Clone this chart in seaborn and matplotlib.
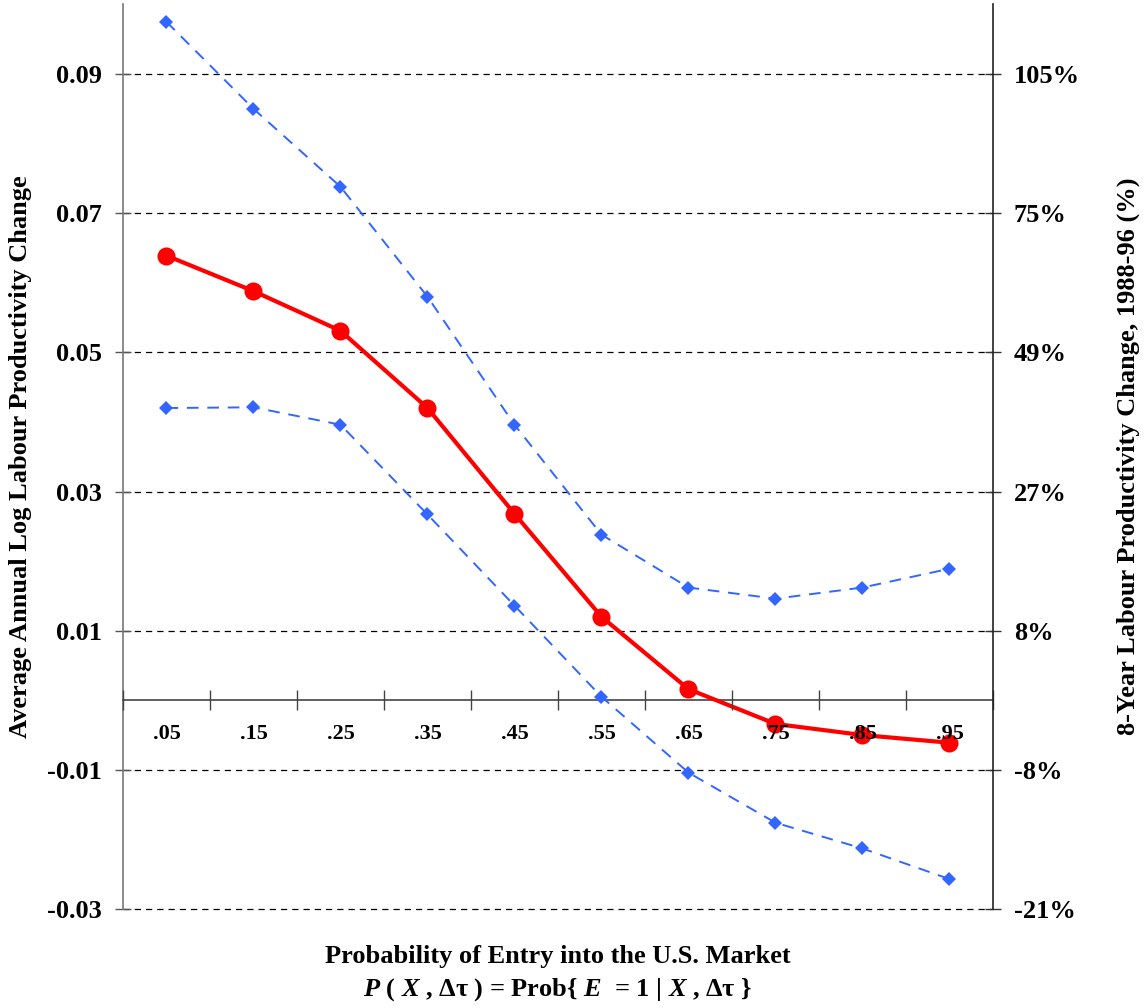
import numpy as np
import pandas as pd
import seaborn as sns
import matplotlib.pyplot as plt
from matplotlib.ticker import FixedLocator, FixedFormatter, NullFormatter

entry_prob = [0.05, 0.15, 0.25, 0.35, 0.45, 0.55, 0.65, 0.75, 0.85, 0.95]
entry_labels = [".05", ".15", ".25", ".35", ".45", ".55", ".65", ".75", ".85", ".95"]

mean_change = [0.0639, 0.0588, 0.0531, 0.0420, 0.0268, 0.0120, 0.0016, -0.0034, -0.0050, -0.0061]
upper_band = [0.0975, 0.0850, 0.0738, 0.0580, 0.0396, 0.0238, 0.0162, 0.0146, 0.0162, 0.0189]
lower_band = [0.0420, 0.0421, 0.0396, 0.0267, 0.0136, 0.0005, -0.0104, -0.0176, -0.0213, -0.0257]

y_ticks = [-0.03, -0.01, 0.01, 0.03, 0.05, 0.07, 0.09]
y_labels = ["-0.03", "-0.01", "0.01", "0.03", "0.05", "0.07", "0.09"]
pct_labels = ["-21%", "-8%", "8%", "27%", "49%", "75%", "105%"]

df = pd.DataFrame({"p": entry_prob, "mean": mean_change,
                   "upper": upper_band, "lower": lower_band})

sns.set_style("white")
plt.rcParams["font.family"] = ["Liberation Serif", "DejaVu Serif"]
plt.rcParams["font.weight"] = "bold"
plt.rcParams["text.color"] = "black"
plt.rcParams["axes.labelcolor"] = "black"
plt.rcParams["xtick.color"] = "black"
plt.rcParams["ytick.color"] = "black"
plt.rcParams["mathtext.fontset"] = "custom"
plt.rcParams["mathtext.rm"] = "Liberation Serif:bold"
plt.rcParams["mathtext.it"] = "Liberation Serif:italic:bold"

red = "#ff0000"
blue = "#3366ff"

fig = plt.figure(figsize=(11.44, 10.08), dpi=100)
ax = fig.add_axes([0.1075, 0.0982, 0.7605, 0.8974])

for col in ["upper", "lower"]:
    sns.lineplot(data=df, x="p", y=col, ax=ax, color=blue, lw=1.4,
                 linestyle=(0, (6, 4.5)), marker="D", markersize=7,
                 markeredgewidth=0, zorder=3)
sns.lineplot(data=df, x="p", y="mean", ax=ax, color=red, lw=3,
             marker="o", markersize=13, markeredgewidth=0, zorder=4)

ax.set_xlim(0, 1)
ax.set_ylim(-0.03, 0.1)

ax.set_yticks(y_ticks)
ax.set_yticklabels(y_labels, fontsize=19, fontweight="bold")
ax.tick_params(axis="y", direction="inout", length=12, width=1, pad=9,
               left=True, color="#555555")
ax.grid(axis="y", color="black", linestyle=(0, (5, 4)), lw=0.9)
ax.grid(axis="x", visible=False)
for gl in ax.get_ygridlines():
    gl.set_clip_on(False)

ax.spines["top"].set_visible(False)
ax.spines["right"].set_visible(False)
ax.spines["left"].set_color("#777777")
ax.spines["left"].set_linewidth(1.2)
ax.spines["bottom"].set_position(("data", 0))
ax.spines["bottom"].set_color("#444444")
ax.spines["bottom"].set_linewidth(1.2)

ax.xaxis.set_major_locator(FixedLocator(np.arange(0, 1.01, 0.1)))
ax.xaxis.set_major_formatter(NullFormatter())
ax.xaxis.set_minor_locator(FixedLocator(entry_prob))
ax.xaxis.set_minor_formatter(FixedFormatter(entry_labels))
ax.tick_params(axis="x", which="major", direction="inout", length=14,
               width=1, bottom=True, color="#444444")
ax.tick_params(axis="x", which="minor", length=0, pad=17, labelsize=16,
               bottom=True)
for lbl in ax.xaxis.get_minorticklabels():
    lbl.set_fontweight("bold")
ax.xaxis.set_zorder(5)

ax.set_xlabel("Probability of Entry into the U.S. Market\n"
              r"$P$ ( $X$ , Δτ ) = Prob{ $E$  = 1 | $X$ , Δτ }",
              fontsize=19, fontweight="bold", linespacing=1.4)
ax.xaxis.set_label_coords(0.5, -0.040)
ax.set_ylabel("Average Annual Log Labour Productivity Change",
              fontsize=19, fontweight="bold")
ax.yaxis.set_label_coords(-0.104, 0.5)

ax2 = ax.twinx()
ax2.set_ylim(ax.get_ylim())
ax2.set_yticks(y_ticks)
ax2.set_yticklabels(pct_labels, fontsize=19, fontweight="bold")
ax2.tick_params(axis="y", direction="inout", length=12, width=1, pad=9,
                right=True, color="#333333")
for side in ["top", "left", "bottom"]:
    ax2.spines[side].set_visible(False)
ax2.spines["right"].set_color("#222222")
ax2.spines["right"].set_linewidth(1.2)
ax2.set_ylabel("8-Year Labour Productivity Change, 1988-96 (%)",
               fontsize=19, fontweight="bold")
ax2.yaxis.set_label_coords(1.1425, 0.5)
ax2.grid(False)

fig.savefig("out.png", dpi=100)
